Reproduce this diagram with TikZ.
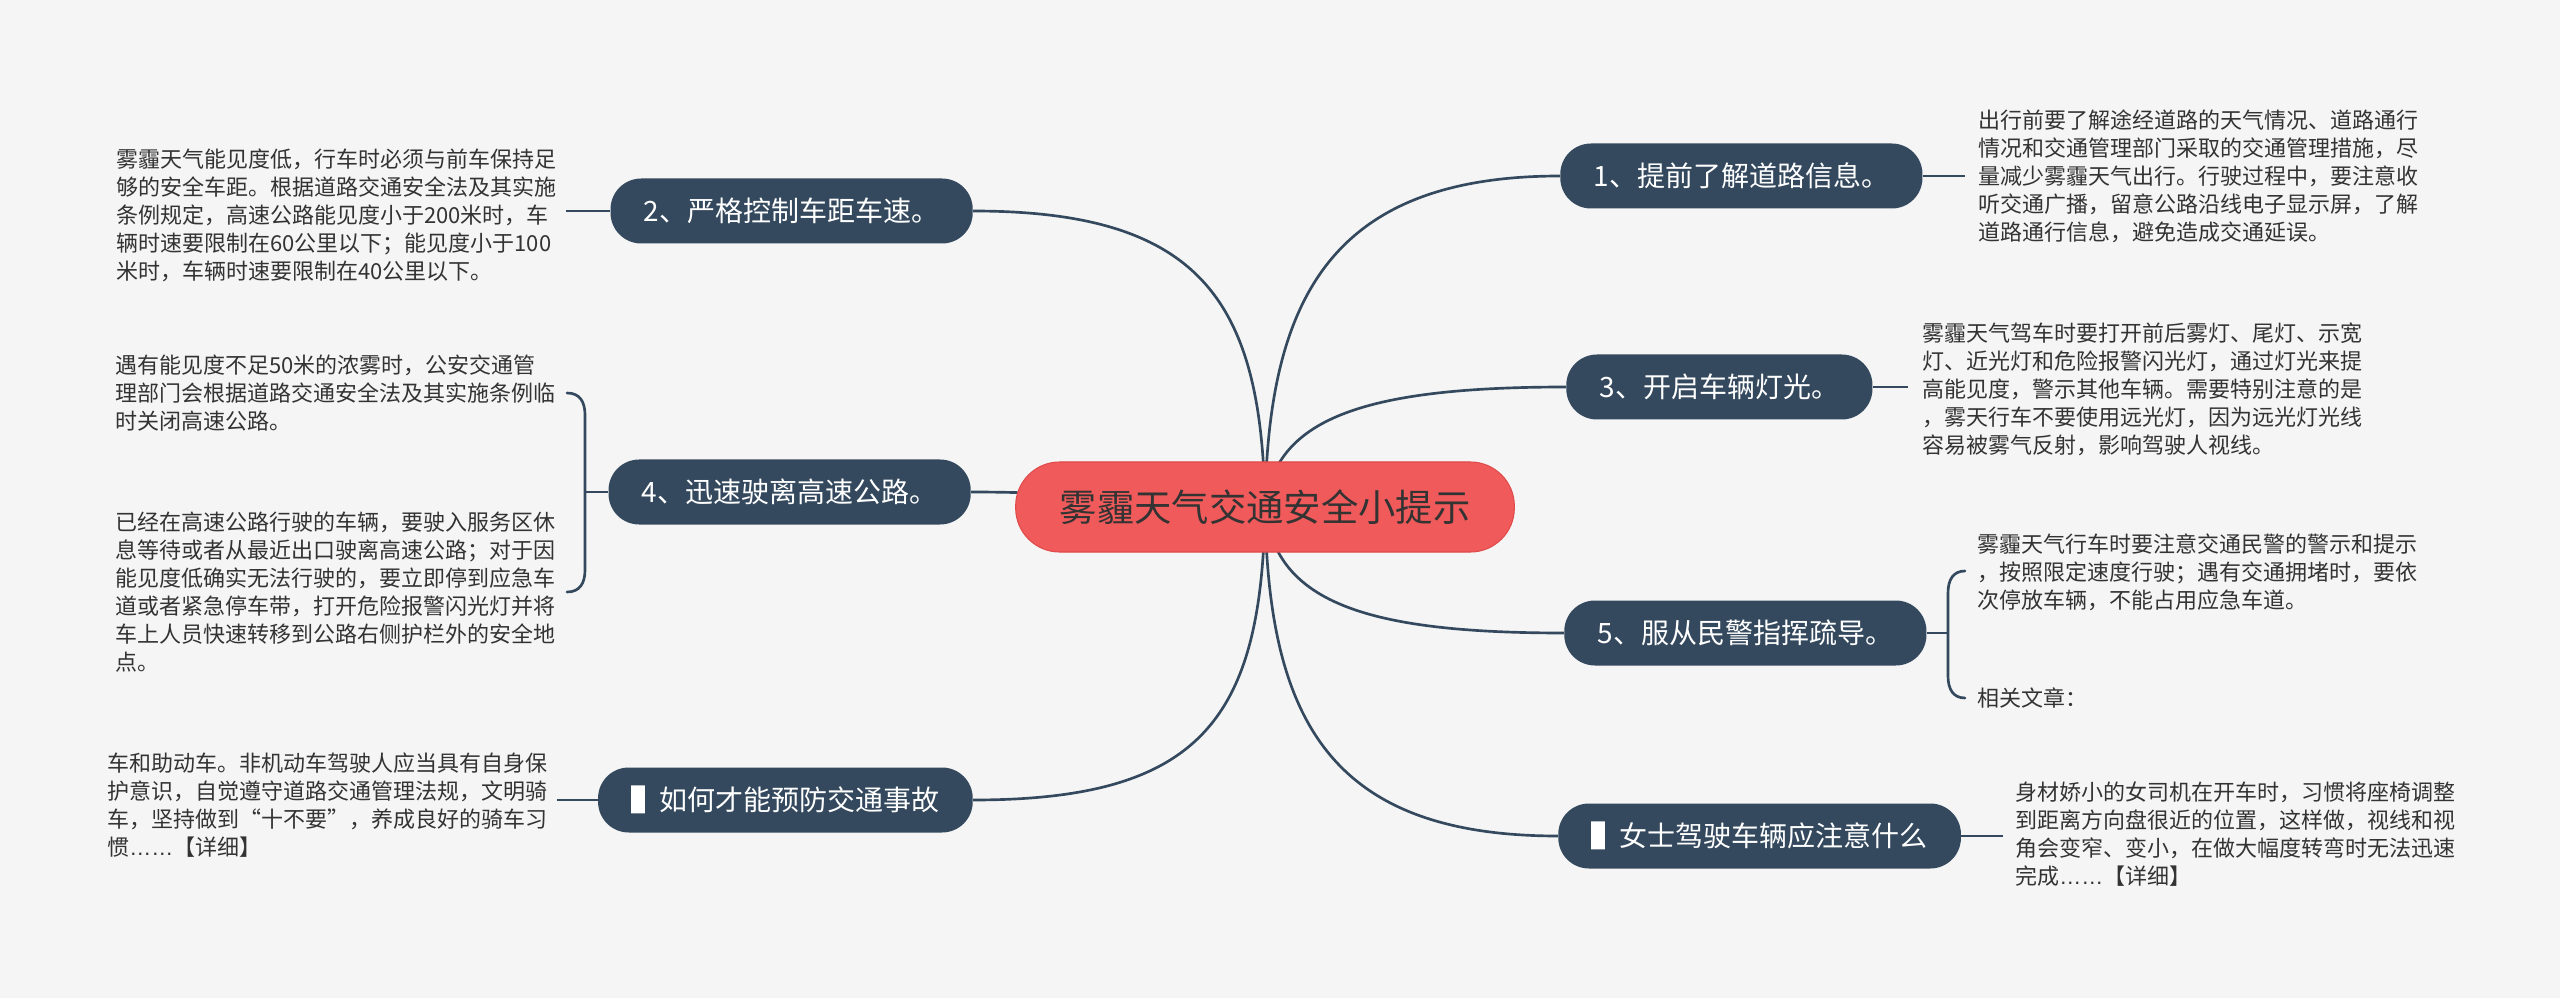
\documentclass[tikz,border=0pt]{standalone}
\usepackage{fontspec}
\setmainfont{Noto Sans CJK SC}
\newfontfamily\latinfont{Liberation Sans}
\usetikzlibrary{backgrounds}
\definecolor{bg}{HTML}{F5F5F5}
\definecolor{navy}{HTML}{34495E}
\definecolor{rootred}{HTML}{F05A5A}
\definecolor{rootedge}{HTML}{E04A4A}
\definecolor{txt}{HTML}{333333}
\newcommand{\ellip}{{\latinfont ……}}
\begin{document}
\begin{tikzpicture}[x=0.75pt,y=-0.75pt,
  rootnode/.style={fill=rootred, draw=rootedge, line width=0.8pt, text=txt,
    rounded corners=33pt, minimum height=67.5pt, inner xsep=33pt,
    font=\fontsize{28pt}{34pt}\selectfont},
  branch/.style={fill=navy, text=white, rounded corners=23pt,
    minimum height=48.75pt, inner xsep=25pt, inner ysep=0pt,
    font=\fontsize{21pt}{25pt}\selectfont},
  leaf/.style={text=txt, align=left, inner sep=0pt, anchor=west,
    font=\fontsize{16.5pt}{21pt}\selectfont},
  conn/.style={draw=navy, line width=2pt},
]
\useasboundingbox (0,0) rectangle (2560,998);

% root
\node[rootnode] (root) at (1265,507) {雾霾天气交通安全小提示};

% branches
\node[branch, anchor=west] (n1) at (1560,176) {1、提前了解道路信息。};
\node[branch, anchor=east] (n2) at (973,211) {2、严格控制车距车速。};
\node[branch, anchor=west] (n3) at (1566,387) {3、开启车辆灯光。};
\node[branch, anchor=east] (n4) at (971,492) {4、迅速驶离高速公路。};
\node[branch, anchor=west] (n5) at (1564,633) {5、服从民警指挥疏导。};
\node[branch, anchor=east] (n6) at (973,800) {▌如何才能预防交通事故};
\node[branch, anchor=west] (n7) at (1558,836) {▌女士驾驶车辆应注意什么};

% leaves
\node[leaf] (t1) at (1978,176) {出行前要了解途经道路的天气情况、道路通行\\情况和交通管理部门采取的交通管理措施，尽\\量减少雾霾天气出行。行驶过程中，要注意收\\听交通广播，留意公路沿线电子显示屏，了解\\道路通行信息，避免造成交通延误。};
\node[leaf] (t2) at (116,215) {雾霾天气能见度低，行车时必须与前车保持足\\够的安全车距。根据道路交通安全法及其实施\\条例规定，高速公路能见度小于200米时，车\\辆时速要限制在60公里以下；能见度小于100\\米时，车辆时速要限制在40公里以下。};
\node[leaf] (t3) at (1922,389) {雾霾天气驾车时要打开前后雾灯、尾灯、示宽\\灯、近光灯和危险报警闪光灯，通过灯光来提\\高能见度，警示其他车辆。需要特别注意的是\\，雾天行车不要使用远光灯，因为远光灯光线\\容易被雾气反射，影响驾驶人视线。};
\node[leaf] (t4a) at (115,393) {遇有能见度不足50米的浓雾时，公安交通管\\理部门会根据道路交通安全法及其实施条例临\\时关闭高速公路。};
\node[leaf] (t4b) at (115,592) {已经在高速公路行驶的车辆，要驶入服务区休\\息等待或者从最近出口驶离高速公路；对于因\\能见度低确实无法行驶的，要立即停到应急车\\道或者紧急停车带，打开危险报警闪光灯并将\\车上人员快速转移到公路右侧护栏外的安全地\\点。};
\node[leaf] (t5a) at (1977,572) {雾霾天气行车时要注意交通民警的警示和提示\\，按照限定速度行驶；遇有交通拥堵时，要依\\次停放车辆，不能占用应急车道。};
\node[leaf] (t5b) at (1977,698) {相关文章：};
\node[leaf] (t6) at (107,805) {车和助动车。非机动车驾驶人应当具有自身保\\护意识，自觉遵守道路交通管理法规，文明骑\\车，坚持做到“十不要”，养成良好的骑车习\\惯\ellip【详细】};
\node[leaf] (t7) at (2015,834) {身材娇小的女司机在开车时，习惯将座椅调整\\到距离方向盘很近的位置，这样做，视线和视\\角会变窄、变小，在做大幅度转弯时无法迅速\\完成\ellip【详细】};

% free ends of short connectors
\coordinate (e1) at (1965,176);
\coordinate (e2) at (566,211);
\coordinate (e3) at (1908,387);
\coordinate (e6) at (557,800);
\coordinate (e7) at (2003,836);
\coordinate (b4top) at (567,393);
\coordinate (b4bot) at (567,592);
\coordinate (b4mid) at (585,492);
\coordinate (b5top) at (1965,571);
\coordinate (b5bot) at (1965,698);
\coordinate (b5mid) at (1948,633);

\begin{pgfonlayer}{background}
  \fill[bg] (0,0) rectangle (2560,998);
  \draw[conn] (root.center) .. controls (1268,300) and (1330,176) .. (n1.west);
  \draw[conn] (root.center) .. controls (1262,300) and (1200,211) .. (n2.east);
  \draw[conn] (root.center) .. controls (1275,420) and (1360,387) .. (n3.west);
  \draw[conn] (root.center) .. controls (1150,505) and (1100,492) .. (n4.east);
  \draw[conn] (root.center) .. controls (1275,600) and (1360,633) .. (n5.west);
  \draw[conn] (root.center) .. controls (1262,720) and (1200,800) .. (n6.east);
  \draw[conn] (root.center) .. controls (1268,720) and (1330,836) .. (n7.west);
  \draw[conn] (n1.east) -- (e1);
  \draw[conn] (n2.west) -- (e2);
  \draw[conn] (n3.east) -- (e3);
  \draw[conn] (n6.west) -- (e6);
  \draw[conn] (n7.east) -- (e7);
  % brace of branch 4
  \draw[conn] (n4.west) -- (b4mid);
  \draw[conn, line cap=round] (b4top) .. controls (580,393) and (585,402) .. (585,415)
     -- (585,570) .. controls (585,583) and (580,592) .. (b4bot);
  % brace of branch 5
  \draw[conn] (n5.east) -- (b5mid);
  \draw[conn, line cap=round] (b5top) .. controls (1953,571) and (1948,580) .. (1948,593)
     -- (1948,676) .. controls (1948,689) and (1953,698) .. (b5bot);
\end{pgfonlayer}
\end{tikzpicture}
\end{document}
